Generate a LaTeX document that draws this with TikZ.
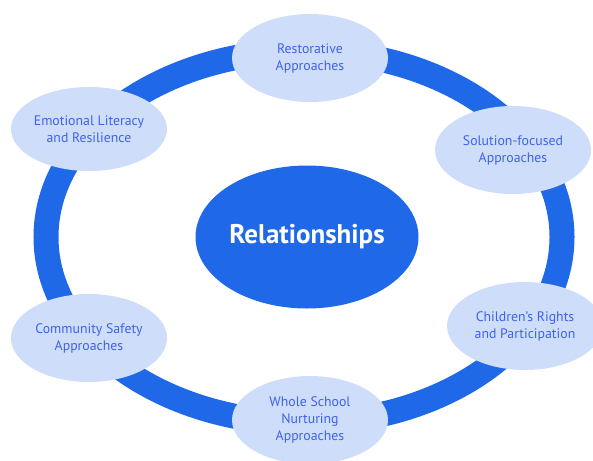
\documentclass[tikz,border=0pt]{standalone}
\usepackage{fontspec}
\setmainfont{PT Sans}
\usepackage{tikz}
\usetikzlibrary{shapes,positioning}

\definecolor{ringblue}{RGB}{31,105,232}
\definecolor{paleblue}{RGB}{206,222,250}
\definecolor{labelblue}{RGB}{62,98,234}

\begin{document}
\begin{tikzpicture}[
    x=1pt, y=-1pt,
    centre/.style={ellipse, fill=ringblue, inner sep=0pt, minimum width=223pt, minimum height=143pt, text=white, font=\fontsize{27}{32}\selectfont\bfseries},
    approach/.style={ellipse, fill=paleblue, inner sep=0pt, minimum width=156pt, minimum height=88pt, text=labelblue, align=center, font=\fontsize{13.8}{17}\selectfont},
    ring/.style={draw=ringblue, line width=25pt}
]
\useasboundingbox (0,0) rectangle (593,460);

% Centre
\node[centre] (rel) at (307,237) {Relationships};

% Ring
\draw[ring] (304,237) ellipse [x radius=258pt, y radius=186pt];

% Approaches
\node[approach] (rest) at (310,58) {Restorative\\Approaches};
\node[approach] (sol) at (513,150) {Solution-focused\\Approaches};
\node[approach] (child) at (525,326) {Children’s Rights\\and Participation};
\node[approach] (whole) at (310,420) {Whole School\\Nurturing\\Approaches};
\node[approach] (comm) at (89,338) {Community Safety\\Approaches};
\node[approach, minimum height=84pt] (emo) at (89,129) {Emotional Literacy\\and Resilience};

\end{tikzpicture}
\end{document}
